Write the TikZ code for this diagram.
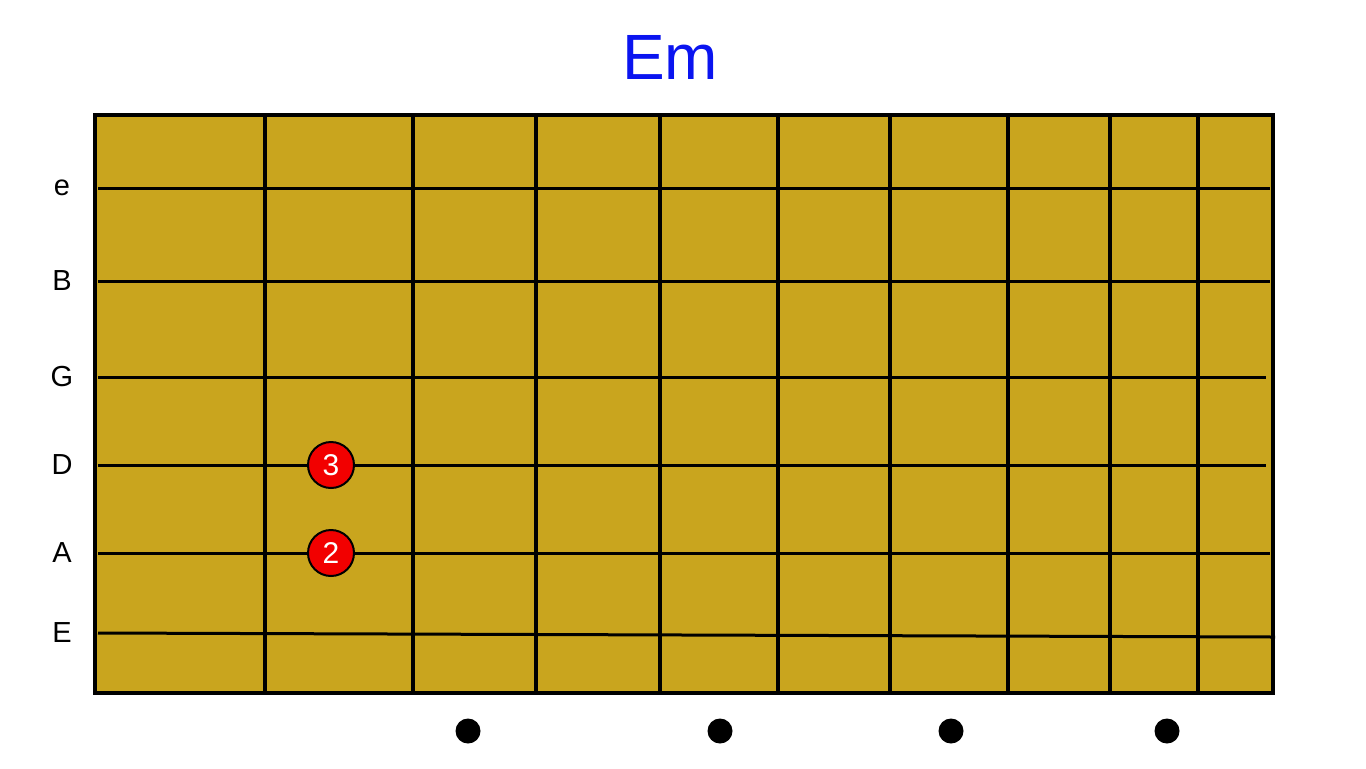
\documentclass[tikz,border=0pt]{standalone}
\usepackage{fontspec}
\setmainfont{Liberation Sans}
\definecolor{fretboard}{HTML}{C9A51E}
\definecolor{titleblue}{HTML}{0A14F0}
\definecolor{fingerred}{HTML}{F20000}
\usetikzlibrary{positioning}

\begin{document}
\begin{tikzpicture}[
    x=0.5pt, y=-0.5pt,
    board/.style={draw=black, line width=2.4pt, fill=fretboard},
    fretline/.style={draw=black, line width=1.8pt},
    stringline/.style={draw=black, line width=1.5pt},
    strlabel/.style={font=\fontsize{14.5}{16}\selectfont, anchor=center},
    fingerdot/.style={circle, draw=black, line width=1pt, fill=fingerred,
                minimum size=23pt, inner sep=0pt, text=white, font=\fontsize{15}{17}\selectfont},
    inlay/.style={circle, fill=black, minimum size=12.5pt, inner sep=0pt}
]
    \useasboundingbox (0,0) rectangle (1366,768);

    % title
    \node[text=titleblue, font=\fontsize{32}{36}\selectfont] (title) at (670,57) {Em};

    % fretboard
    \draw[board] (95,115) rectangle (1273,693);
    \foreach \fx in {265,413,536,660,778,890,1008,1110,1198}
        \draw[fretline] (\fx,117) -- (\fx,691);

    % strings and names
    \foreach \sy/\sname/\send in {188/e/1270,281/B/1270,377/G/1266,465/D/1266,553/A/1270}{
        \draw[stringline] (98,\sy) -- (\send,\sy);
        \node[strlabel] (lbl\sname) at (62,\sy) {\sname};
    }
    \draw[stringline] (98,633) -- (1275,637);
    \node[strlabel] (lblE) at (62,633) {E};

    % fingers
    \node[fingerdot] (fingerD) at (331,465) {3};
    \node[fingerdot] (fingerA) at (331,553) {2};

    % position markers
    \foreach \mx in {468,720,951,1167}
        \node[inlay] (inlay\mx) at (\mx,731) {};
\end{tikzpicture}
\end{document}
